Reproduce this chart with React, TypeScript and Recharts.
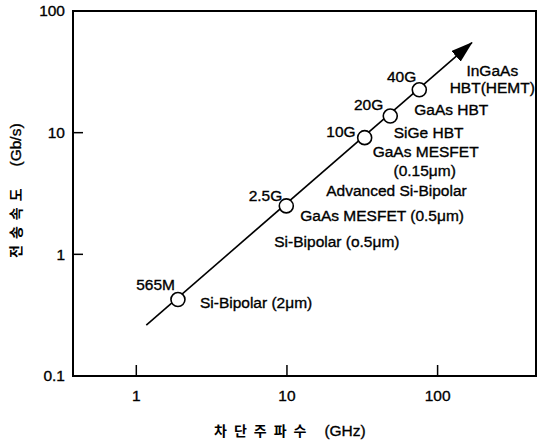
import React from "react";
import { ComposedChart, Line, Scatter, XAxis, YAxis, ReferenceArea, Label } from "recharts";

// cutoff frequency (GHz) vs. transmission rate (Gb/s)
const freqGHz = [1.89, 9.9, 32.8, 48.5, 75.6];
const rateGbps = [0.425, 2.5, 9.1, 13.7, 22.5];
const pointLabels = ["565M", "2.5G", "10G", "20G", "40G"];
const deviceNotes = [
	["Si-Bipolar (2μm)"],
	["Advanced Si-Bipolar", "GaAs MESFET (0.5μm)", "Si-Bipolar (o.5μm)"],
	["SiGe HBT", "GaAs MESFET", "(0.15μm)"],
	["GaAs HBT"],
	["InGaAs", "HBT(HEMT)"],
];
// trend arrow, start and tip
const trendFreq = [1.165, 169];
const trendRate = [0.262, 55];
const xTicks = [1, 10, 100];
const yTicks = [0.1, 1, 10, 100];

const points = freqGHz.map((f, i) => ({ f, r: rateGbps[i], i }));
const trend = trendFreq.map((f, i) => ({ f, r: trendRate[i] }));

const FONT = "'Liberation Sans', Arial, Helvetica, sans-serif";
const KFONT = "'Noto Sans CJK KR', sans-serif";
const TXT = { fontFamily: FONT, fontSize: 15.5, fill: "#000", stroke: "#000", strokeWidth: 0.35 };

// label offsets from each circle centre
const labelPos = [
	{ dx: -3, dy: -15 },
	{ dx: -4, dy: -10 },
	{ dx: -9, dy: -6 },
	{ dx: -7, dy: -11 },
	{ dx: -3, dy: -13 },
];
const notePos: Array<Array<{ dx: number; dy: number; anchor: "start" | "middle" }>> = [
	[{ dx: 22, dy: 3, anchor: "start" }],
	[
		{ dx: 40, dy: -15, anchor: "start" },
		{ dx: 14, dy: 10, anchor: "start" },
		{ dx: -12, dy: 36, anchor: "start" },
	],
	[
		{ dx: 64, dy: -5, anchor: "middle" },
		{ dx: 61, dy: 14, anchor: "middle" },
		{ dx: 60, dy: 33, anchor: "middle" },
	],
	[{ dx: 24, dy: -6, anchor: "start" }],
	[
		{ dx: 73, dy: -19, anchor: "middle" },
		{ dx: 73, dy: -2, anchor: "middle" },
	],
];

const PointMark = (props: any) => {
	const { cx, cy, payload } = props;
	const i = payload.i;
	const lp = labelPos[i];
	return (
		<g>
			<circle cx={cx} cy={cy} r={7} fill="#fff" stroke="#000" strokeWidth={1.6} />
			<text {...TXT} x={cx + lp.dx} y={cy + lp.dy} dy="0.35em" textAnchor="end">
				{pointLabels[i]}
			</text>
			{deviceNotes[i].map((t, k) => (
				<text {...TXT} key={k} x={cx + notePos[i][k].dx} y={cy + notePos[i][k].dy} dy="0.35em" textAnchor={notePos[i][k].anchor}>
					{t}
				</text>
			))}
		</g>
	);
};

const XTick = (props: any) => {
	const { x, y, payload } = props;
	return (
		<g>
			<line x1={x} x2={x} y1={y} y2={y - 11} stroke="#000" strokeWidth={1.5} />
			<text {...TXT} x={x} y={y + 20} dy="0.35em" textAnchor="middle">
				{String(payload.value)}
			</text>
		</g>
	);
};

const YTick = (props: any) => {
	const { x, y, payload } = props;
	return (
		<g>
			<line x1={x} x2={x + 10} y1={y} y2={y} stroke="#000" strokeWidth={1.5} />
			<text {...TXT} x={x - 8} y={y} dy="0.35em" textAnchor="end">
				{String(payload.value)}
			</text>
		</g>
	);
};

const XTitle = (props: any) => {
	const vb = props.viewBox;
	const x0 = vb.x + 141;
	const y0 = vb.y + 54;
	return (
		<text x={x0} y={y0} dy="0.35em" fill="#000">
			<tspan fontFamily={KFONT} fontWeight={700} fontSize={14} letterSpacing={7}>차단주파수</tspan>
			<tspan fontFamily={FONT} fontSize={15.5} stroke="#000" strokeWidth={0.35} dx={11}>(GHz)</tspan>
		</text>
	);
};

const YTitle = (props: any) => {
	const vb = props.viewBox;
	const cx = vb.x + 15;
	const cy = 258;
	return (
		<text x={cx} y={cy} dy="0.35em" fill="#000" transform={`rotate(-90, ${cx}, ${cy})`}>
			<tspan fontFamily={KFONT} fontWeight={700} fontSize={14} letterSpacing={6}>전송속도</tspan>
			<tspan fontFamily={FONT} fontSize={15.5} stroke="#000" strokeWidth={0.35} dx={16}>(Gb/s)</tspan>
		</text>
	);
};

export default function App() {
	return (
		<div style={{ position: "absolute", left: 0, top: 0, background: "#fff" }}>
			<ComposedChart width={543} height={443} margin={{ top: 11, right: 7, bottom: 0, left: 0 }}>
				<defs>
					<marker id="arrowHead" viewBox="0 0 22 14" refX={21} refY={7} markerWidth={22} markerHeight={14} markerUnits="userSpaceOnUse" orient="auto">
						<path d="M0,0 L22,7 L0,14 z" fill="#000" />
					</marker>
				</defs>
				<XAxis
					dataKey="f"
					type="number"
					scale="log"
					domain={[0.38, 450]}
					allowDataOverflow
					ticks={xTicks}
					height={67}
					axisLine={false}
					tickLine={false}
					tickSize={0}
					tickMargin={0}
					tick={<XTick />}
				>
					<Label content={<XTitle />} />
				</XAxis>
				<YAxis
					dataKey="r"
					type="number"
					scale="log"
					domain={[0.1, 100]}
					allowDataOverflow
					ticks={yTicks}
					width={73}
					axisLine={false}
					tickLine={false}
					tickSize={0}
					tickMargin={0}
					tick={<YTick />}
				>
					<Label content={<YTitle />} />
				</YAxis>
				<ReferenceArea x1={0.38} x2={450} y1={0.1} y2={100} fill="none" stroke="#000" strokeWidth={2} />
				<Line
					data={trend}
					dataKey="r"
					stroke="#000"
					strokeWidth={1.6}
					dot={false}
					activeDot={false}
					markerEnd="url(#arrowHead)"
					isAnimationActive={false}
				/>
				<Scatter data={points} dataKey="r" shape={<PointMark />} isAnimationActive={false} />
			</ComposedChart>
		</div>
	);
}
